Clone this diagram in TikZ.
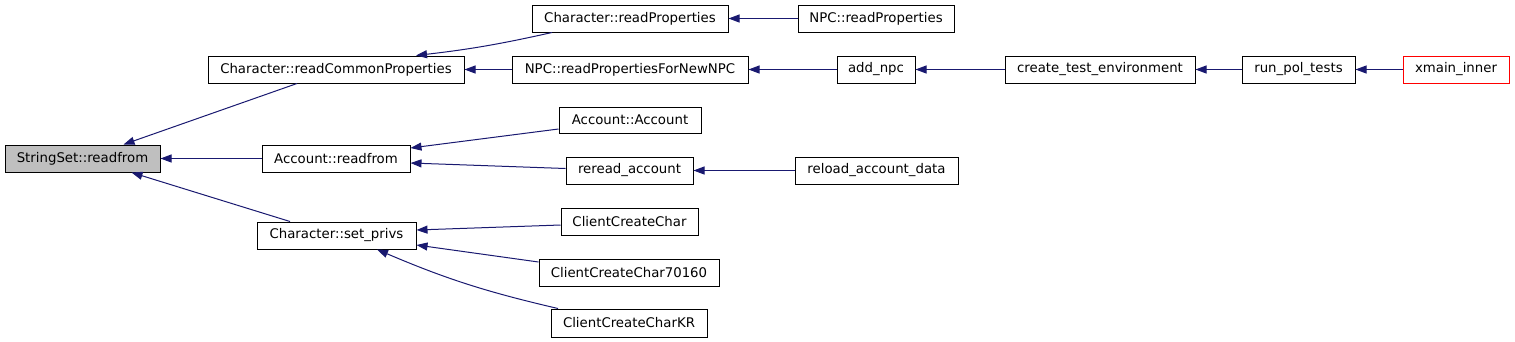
\documentclass[tikz,border=0pt]{standalone}
\usepackage{fontspec}
\usepackage{tikz}
\usetikzlibrary{arrows.meta}
\usetikzlibrary{positioning,calc}
\newfontfamily\dejavu{DejaVu Sans}
\definecolor{edgeblue}{HTML}{191970}
\definecolor{rootgray}{HTML}{BFBFBF}
\tikzset{  fn/.style={draw,rectangle,line width=1pt,minimum height=27pt,inner sep=0pt,font=\dejavu\fontsize{13.3}{16}\selectfont} }
\tikzset{  call/.style={edgeblue,line width=1pt} }

\begin{document}
\begin{tikzpicture}[x=1pt,y=-1pt,->,>={Triangle[length=11pt,width=8pt]}]
   \useasboundingbox (0,0) rectangle (1515,341);
   % rank 0
   \node[fn,fill=rootgray,minimum width=155pt] (ss) at (82.5,158.5) {StringSet::readfrom};
   % rank 1
   \node[fn,minimum width=256pt] (crcp) at (336,69.5) {Character::readCommonProperties};
   \node[fn,minimum width=148pt] (arf) at (336,158.5) {Account::readfrom};
   \node[fn,minimum width=159pt] (csp) at (336.5,235.5) {Character::set\_privs};
   % rank 2
   \node[fn,minimum width=196pt] (crp) at (630,18.5) {Character::readProperties};
   \node[fn,minimum width=236pt] (nrpn) at (630,69.5) {NPC::readPropertiesForNewNPC};
   \node[fn,minimum width=142pt,minimum height=26pt] (aa) at (630,120) {Account::Account};
   \node[fn,minimum width=127pt] (rra) at (629.5,170.5) {reread\_account};
   \node[fn,minimum width=137pt] (ccc) at (629.5,221.5) {ClientCreateChar};
   \node[fn,minimum width=180pt] (cc7) at (629,272.5) {ClientCreateChar70160};
   \node[fn,minimum width=156pt,minimum height=28pt] (cck) at (629,323) {ClientCreateCharKR};
   % rank 3 and beyond
   \node[fn,minimum width=156pt] (nrp) at (876,18.5) {NPC::readProperties};
   \node[fn,minimum width=78pt] (add) at (876,69.5) {add\_npc};
   \node[fn,minimum width=163pt] (rad) at (876.5,170.5) {reload\_account\_data};
   \node[fn,minimum width=190pt] (cte) at (1100,69.5) {create\_test\_environment};
   \node[fn,minimum width=113pt] (rpt) at (1298.5,69.5) {run\_pol\_tests};
   \node[fn,draw=red,minimum width=106pt] (xmi) at (1456,69.5) {xmain\_inner};
   % callers point back to callees
   \draw[call] ([xshift=-39pt]crcp.south) -- ([xshift=41pt]ss.north);
   \draw[call] (arf.west) -- (ss.east);
   \draw[call] ([xshift=-46.5pt]csp.north) -- ([xshift=49pt]ss.south);
   \draw[call] ([xshift=-78pt]crp.south) to[bend left=3] ([xshift=80pt]crcp.north);
   \draw[call] (nrpn.west) -- (crcp.east);
   \draw[call] (nrp.west) -- (crp.east);
   \draw[call] (add.west) -- (nrpn.east);
   \draw[call] (cte.west) -- (add.east);
   \draw[call] (rpt.west) -- (cte.east);
   \draw[call] (xmi.west) -- (rpt.east);
   \draw[call] ([yshift=-9pt]aa.west) -- ([yshift=10.5pt]arf.east);
   \draw[call] ([yshift=2pt]rra.west) -- ([yshift=-4.5pt]arf.east);
   \draw[call] (rad.west) -- (rra.east);
   \draw[call] ([yshift=-3.5pt]ccc.west) -- ([yshift=5.5pt]csp.east);
   \draw[call] ([yshift=10.5pt]cc7.west) -- ([yshift=-9.5pt]csp.east);
   \draw[call] ([xshift=-71pt]cck.north) to[bend left=5] ([xshift=40.5pt]csp.south);
  \end{tikzpicture}
\end{document}
